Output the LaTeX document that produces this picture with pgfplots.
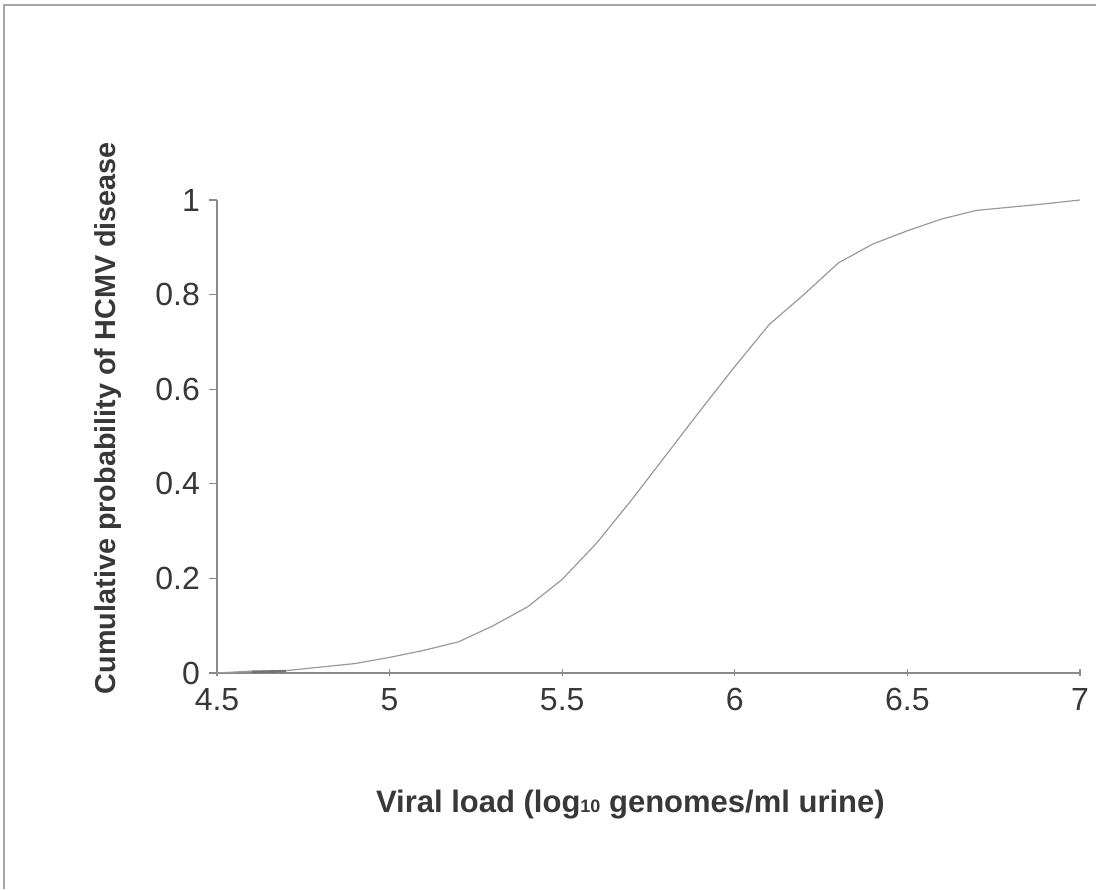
\documentclass[border=0pt]{standalone}
\usepackage{pgfplots}
\pgfplotsset{compat=1.18}
\usepackage{fontspec}
\setmainfont{Liberation Sans}

\definecolor{axisgray}{HTML}{8A8A8A}
\definecolor{curvegray}{HTML}{9A9A9A}
\definecolor{textgray}{HTML}{383838}

\begin{document}
\begin{tikzpicture}
  % page = 1096 x 889 px at 0.5pt per px
  \useasboundingbox (0,0) rectangle (548pt,444.5pt);
  \draw[color=gray!70, line width=0.8pt] (2pt,0pt) -- (2pt,442pt) -- (548pt,442pt);

  \begin{axis}[
      at={(108.5pt,108pt)},
      anchor=south west,
      scale only axis,
      width=431.5pt,
      height=236.5pt,
      xmin=4.5, xmax=7,
      ymin=0, ymax=1,
      xtick={4.5,5,5.5,6,6.5,7},
      ytick={0,0.2,0.4,0.6,0.8,1},
      axis lines*=left,
      axis line style={color=axisgray, line width=0.6pt},
      tick style={color=axisgray, line width=0.6pt},
      tick align=outside,
      major tick length=4pt,
      x tick style={yshift=2pt, /pgfplots/major tick length=3.5pt},
      ticklabel style={font=\fontsize{16}{18}\selectfont, color=textgray},
      /pgf/number format/assume math mode=true,
      xticklabel style={yshift=0pt},
      yticklabel style={xshift=-1pt},
      xlabel={\textbf{Viral load (log{\fontsize{9}{10}\selectfont 10} genomes/ml urine)}},
      ylabel={\textbf{Cumulative probability of HCMV disease}},
      xlabel style={font=\fontsize{15.5}{17}\selectfont, color=textgray,
        at={(axis description cs:0.479,-0.279)}, anchor=center},
      ylabel style={font=\fontsize{14.4}{16}\selectfont, color=textgray,
        at={(axis description cs:-0.126,0.539)}, anchor=center},
      clip=false,
    ]
    \addplot[color=curvegray, line width=0.6pt, mark=none] coordinates {
      (4.5,0) (4.6,0.004) (4.7,0.005) (4.9,0.02) (5.0,0.033) (5.1,0.048)
      (5.2,0.066) (5.3,0.1) (5.4,0.14) (5.5,0.198) (5.6,0.275) (5.7,0.365)
      (5.8,0.46) (5.9,0.555) (6.0,0.648) (6.1,0.737) (6.2,0.8) (6.3,0.867)
      (6.4,0.907) (6.5,0.935) (6.6,0.96) (6.7,0.978) (6.8,0.985) (6.9,0.992) (7.0,1)
    };
    \addplot[color=gray!90!black, line width=1.3pt, mark=none] coordinates {
      (4.6,0.002) (4.7,0.004)
    };
  \end{axis}
\end{tikzpicture}
\end{document}
